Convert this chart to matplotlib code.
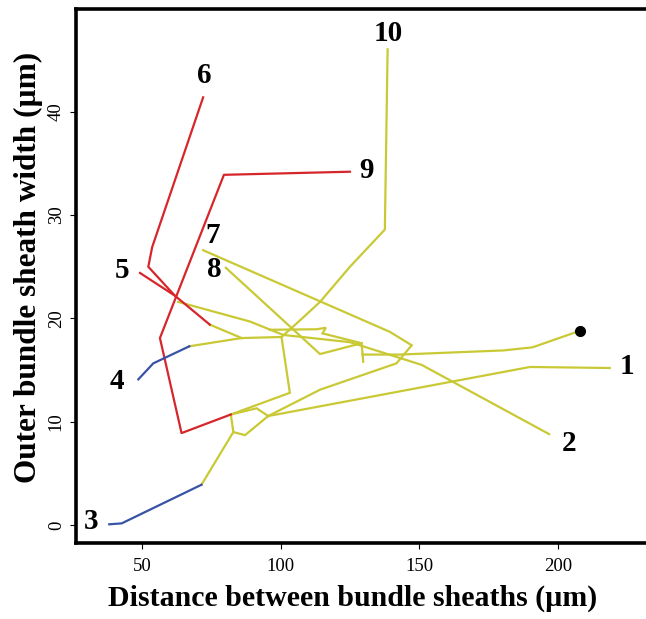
import matplotlib.pyplot as plt

plt.rcParams["font.family"] = ["Liberation Serif", "DejaVu Serif"]

YELLOW = "#c9c935"
RED = "#d7262b"
BLUE = "#3853a6"

# red branches (tips 5, 6, 9)
path6_x = [72.0, 53.6, 52.2, 61.8, 74.4]
path6_y = [41.4, 26.9, 25.0, 22.2, 19.4]
path5_x = [49.2, 61.8]
path5_y = [24.4, 22.2]
path9_x = [125.0, 79.5, 56.4, 64.2, 82.0]
path9_y = [34.2, 33.9, 18.1, 8.9, 10.7]

# blue branches (tips 3, 4)
path4_x = [48.6, 54.0, 67.0]
path4_y = [14.1, 15.65, 17.3]
path3_x = [38.1, 42.6, 71.4]
path3_y = [0.07, 0.16, 3.9]

# yellow branches
stem3_x = [71.4, 82.9, 87.1, 95.5]
stem3_y = [3.9, 9.0, 8.7, 10.55]
loop_x = [82.9, 82.0, 91.3, 95.5]
loop_y = [9.0, 10.7, 11.3, 10.55]
box_x = [82.0, 103.3, 100.3]
box_y = [10.7, 12.8, 18.2]
path10_x = [100.3, 105.7, 114.2, 125.0, 137.6, 138.6]
path10_y = [18.2, 19.5, 21.6, 25.0, 28.6, 46.05]
join_x = [67.0, 85.9, 100.3]
join_y = [17.3, 18.1, 18.2]
red_join_x = [74.4, 85.9]
red_join_y = [19.4, 18.1]
path7_x = [72.0, 139.4, 147.3, 141.8, 114.2, 95.5]
path7_y = [26.6, 18.7, 17.4, 15.65, 13.1, 10.55]
path1_x = [218.8, 190.0, 95.5]
path1_y = [15.2, 15.3, 10.55]
path2_x = [196.9, 150.9, 125.0, 100.9, 88.9, 63.0]
path2_y = [8.8, 15.5, 17.7, 18.4, 19.7, 21.6]
zigzag_x = [96.1, 113.0, 116.3, 115.1, 129.2]
zigzag_y = [18.9, 18.95, 19.1, 18.55, 17.6]
path8_x = [80.2, 114.2, 129.2, 129.8]
path8_y = [24.9, 16.55, 17.6, 15.8]
root_x = [208.0, 190.9, 180.3, 143.0, 129.5]
root_y = [18.8, 17.2, 16.9, 16.5, 16.5]

tip_labels = ["1", "2", "3", "4", "5", "6", "7", "8", "9", "10"]
tip_label_x = [224.9, 204.2, 31.7, 41.0, 42.6, 72.3, 75.4, 76.2, 131.0, 138.8]
tip_label_y = [15.3, 7.9, 0.3, 13.9, 24.6, 43.5, 28.0, 24.7, 34.3, 47.6]

x_ticks = [50, 100, 150, 200]
y_ticks = [0, 10, 20, 30, 40]

fig = plt.figure(figsize=(6.46, 6.19), dpi=100)
ax = fig.add_axes([76 / 646, 76 / 619, 572 / 646, 534.3 / 619])

lw = 1.6
for xs, ys in [(stem3_x, stem3_y), (loop_x, loop_y), (box_x, box_y),
               (path10_x, path10_y), (join_x, join_y), (red_join_x, red_join_y),
               (path7_x, path7_y), (path1_x, path1_y), (path2_x, path2_y),
               (zigzag_x, zigzag_y), (path8_x, path8_y), (root_x, root_y)]:
    ax.plot(xs, ys, color=YELLOW, lw=lw, solid_joinstyle="miter")
for xs, ys in [(path6_x, path6_y), (path5_x, path5_y), (path9_x, path9_y)]:
    ax.plot(xs, ys, color=RED, lw=lw)
for xs, ys in [(path4_x, path4_y), (path3_x, path3_y)]:
    ax.plot(xs, ys, color=BLUE, lw=lw)

ax.plot(root_x[0], root_y[0], "o", color="black", markersize=7)

for t, x, y in zip(tip_labels, tip_label_x, tip_label_y):
    ax.text(x, y, t, fontsize=21, fontweight="bold", ha="center", va="center")

ax.set_xlim(26.1, 232.6)
ax.set_ylim(-1.74, 49.98)
ax.set_xticks(x_ticks)
ax.set_yticks(y_ticks)
ax.tick_params(direction="out", length=4, width=0.8, labelsize=13.5, pad=7)
ax.tick_params(axis="y", pad=4)
for lab in ax.get_yticklabels():
    lab.set_rotation(90)
    lab.set_va("center")
for sp in ax.spines.values():
    sp.set_linewidth(2.6)

fig.text(353 / 646, 1 - 598 / 619, "Distance between bundle sheaths (µm)",
         fontsize=21.5, fontweight="bold", ha="center", va="center")
fig.text(28 / 646, 1 - 267 / 619, "Outer bundle sheath width (µm)",
         fontsize=22.5, fontweight="bold", ha="center", va="center", rotation=90)

fig.savefig("out.png", dpi=100)
